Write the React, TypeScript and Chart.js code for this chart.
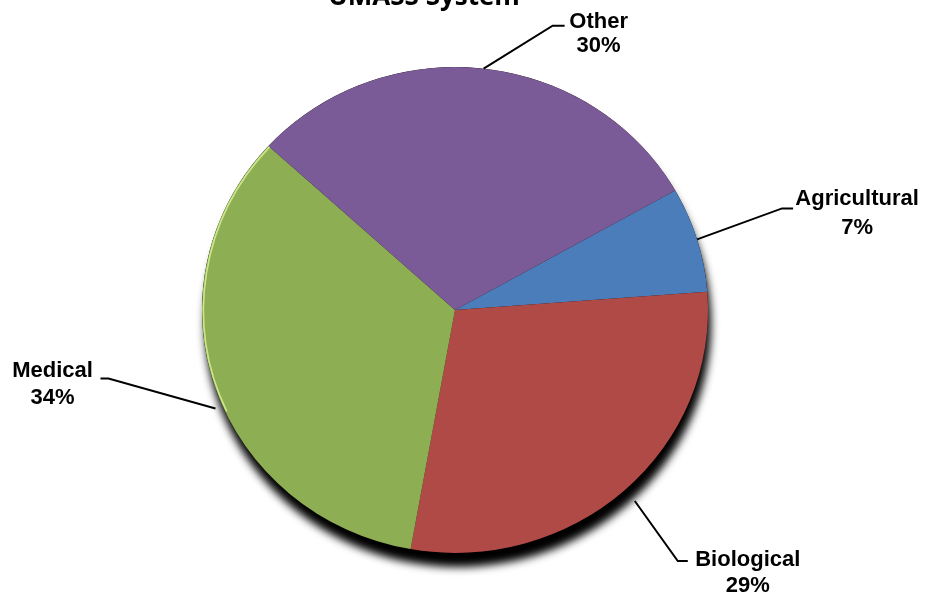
import React, { useEffect, useRef } from "react";
import { Chart, registerables } from "chart.js";

Chart.register(...registerables);

const title = "UMASS System";
const categories = ["Agricultural", "Biological", "Medical", "Other"];
const values = [7, 29, 34, 30];
const colors = ["#4A7DB9", "#B04A47", "#8DAE52", "#7A5B97"];

// vertical squash of the pie (drawn as a slight ellipse)
const squashY = 0.96;
// label leader-line layout (relative to the slice's outer mid point)
const anchorShiftDeg = [0, 0, -4.5, 0];
const anchorRadiusFactor = [1, 1.06, 1.03, 1];
const elbowOffsets = [[85, -31], [43, 60], [-107, -30], [69, -43]];
const tailLengths = [11, 10, -8, 12];
const textOffsets = [[160, -40], [113, 59], [-163, -38], [115, -47]];
const lineGaps = [29, 26, 27, 24];

export default function App() {
  const ref = useRef<HTMLCanvasElement | null>(null);

  useEffect(() => {
    document.body.style.margin = "0";
    const canvas = ref.current;
    if (!canvas) return;

    const total = values.reduce((a, b) => a + b, 0);

    const decor = {
      id: "decor",
      beforeDatasetsDraw(chart: any) {
        const meta = chart.getDatasetMeta(0);
        const arc = meta.data[0];
        if (!arc) return;
        const { x, y, outerRadius } = arc.getProps(["x", "y", "outerRadius"], true);
        const ctx = chart.ctx;
        ctx.save();
        ctx.translate(x, y);
        ctx.scale(1, squashY);
        ctx.translate(-x, -y);
        ctx.save();
        ctx.shadowColor = "rgba(0,0,0,1)";
        ctx.shadowBlur = 8;
        ctx.shadowOffsetX = 3;
        ctx.shadowOffsetY = 14;
        ctx.fillStyle = "#1a0c0c";
        ctx.beginPath();
        ctx.arc(x, y, outerRadius, 0, Math.PI * 2);
        ctx.fill();
        ctx.restore();
      },
      afterDatasetsDraw(chart: any) {
        const meta = chart.getDatasetMeta(0);
        const ctx = chart.ctx;
        // rim highlight on the green slice
        const g = meta.data[2];
        if (g) {
          const p = g.getProps(["x", "y", "outerRadius", "startAngle", "endAngle"], true);
          ctx.save();
          ctx.strokeStyle = "rgba(215,240,150,0.85)";
          ctx.lineWidth = 1.6;
          ctx.beginPath();
          ctx.arc(p.x, p.y, p.outerRadius - 1.5, p.startAngle + (p.endAngle - p.startAngle) * 0.45, p.endAngle);
          ctx.stroke();
          ctx.restore();
        }
        ctx.restore(); // end of squash transform
        // title
        ctx.save();
        ctx.fillStyle = "#000";
        ctx.font = "bold 26px 'Open Sans', sans-serif";
        ctx.textAlign = "center";
        ctx.textBaseline = "alphabetic";
        ctx.fillText(title, 424, 5);
        ctx.restore();
        // labels
        meta.data.forEach((el: any, i: number) => {
          const p = el.getProps(["x", "y", "outerRadius", "startAngle", "endAngle"], true);
          const mid = (p.startAngle + p.endAngle) / 2 + (anchorShiftDeg[i] * Math.PI) / 180;
          const r = p.outerRadius * anchorRadiusFactor[i];
          const ax = p.x + Math.cos(mid) * r;
          const ay = p.y + Math.sin(mid) * r * squashY;
          const ex = ax + elbowOffsets[i][0];
          const ey = ay + elbowOffsets[i][1];
          const tx = ex + tailLengths[i];
          ctx.save();
          ctx.strokeStyle = "#000";
          ctx.lineWidth = 2;
          ctx.beginPath();
          ctx.moveTo(ax, ay);
          ctx.lineTo(ex, ey);
          ctx.lineTo(tx, ey);
          ctx.stroke();
          ctx.fillStyle = "#000";
          ctx.font = "bold 22px 'Liberation Sans', Arial, sans-serif";
          ctx.textAlign = "center";
          ctx.textBaseline = "middle";
          const cx = ax + textOffsets[i][0];
          const cy = ay + textOffsets[i][1];
          ctx.fillText(categories[i], cx, cy);
          ctx.fillText(Math.round((values[i] / total) * 100) + "%", cx, cy + lineGaps[i]);
          ctx.restore();
        });
      },
    };

    const chart = new Chart(canvas, {
      type: "pie",
      data: {
        labels: categories,
        datasets: [
          {
            data: values,
            backgroundColor: colors,
            borderWidth: 0,
          },
        ],
      },
      options: {
        responsive: false,
        animation: false,
        rotation: 60.5,
        layout: { padding: { top: 57, bottom: 34, left: 202, right: 219 } },
        plugins: {
          legend: { display: false },
          tooltip: { enabled: false },
          title: { display: false },
        },
      },
      plugins: [decor],
    });
    return () => chart.destroy();
  }, []);

  return (
    <div style={{ position: "absolute", left: 0, top: 0, width: 927, height: 597, background: "#fff" }}>
      <canvas ref={ref} width={927} height={597} />
    </div>
  );
}
